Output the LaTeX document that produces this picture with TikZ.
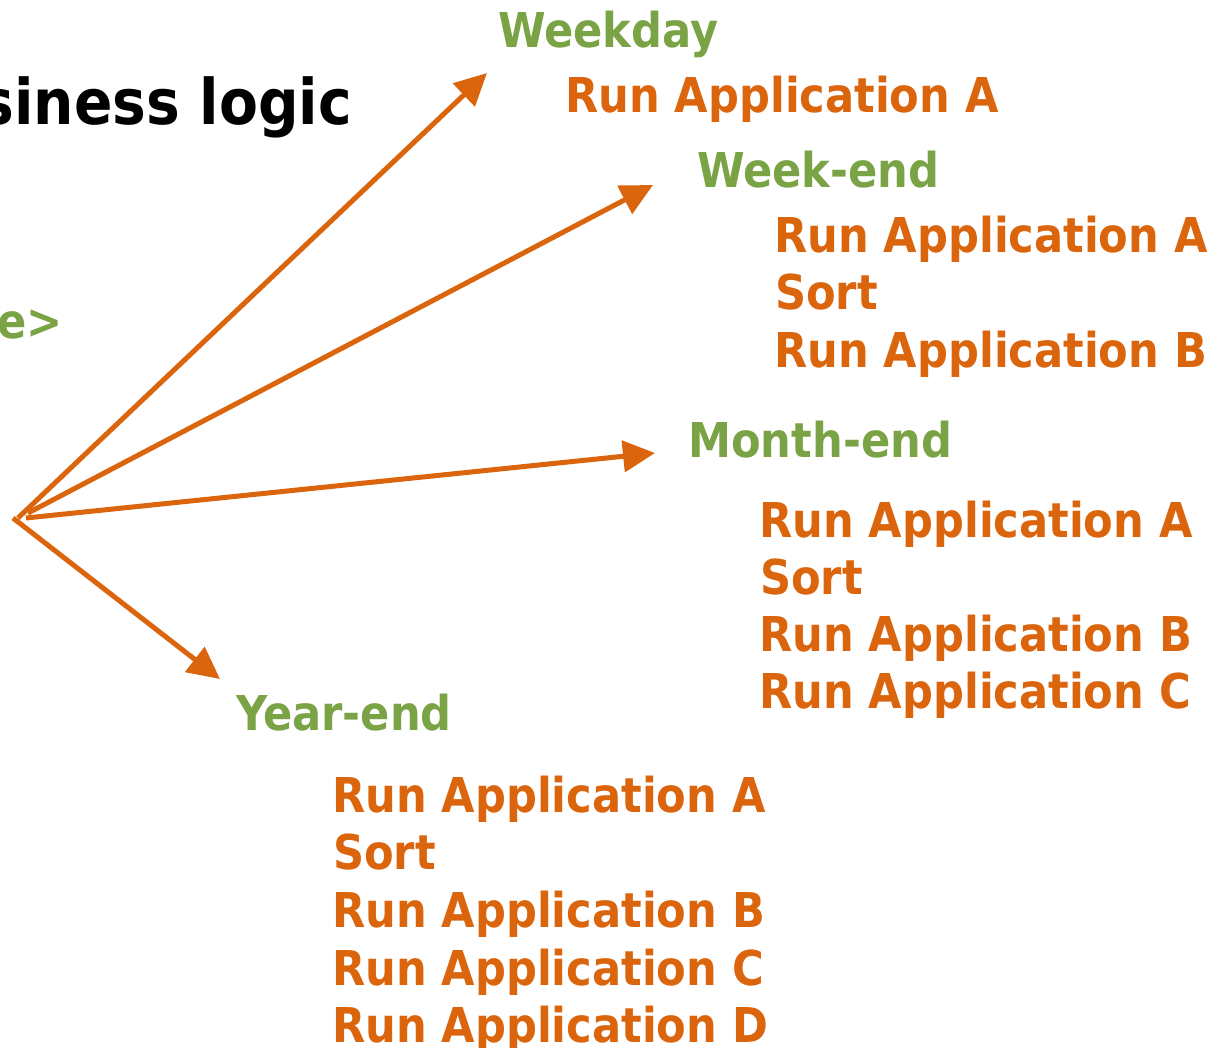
\documentclass[tikz,border=0pt]{standalone}
\usepackage{fontspec}
\setmainfont{DejaVu Sans Condensed}
\usepackage{xcolor}
\usetikzlibrary{arrows.meta}

\definecolor{runorange}{RGB}{219,101,13}
\definecolor{daygreen}{RGB}{122,163,70}

\tikzset{
    caselabel/.style={text=daygreen, anchor=base west, inner sep=0pt,
        font=\fontsize{48}{57.5}\selectfont\bfseries},
    runline/.style={text=runorange, anchor=base west, inner sep=0pt,
        font=\fontsize{48}{57.5}\selectfont\bfseries},
    casearrow/.style={draw=runorange, line width=5pt,
        -{Triangle[length=32pt,width=31pt]}}
}

\begin{document}
\begin{tikzpicture}[x=1pt,y=-1pt]
    % Page frame
    \useasboundingbox (0,0) rectangle (1212,1048);

    % Title and parameter, cut at the left edge
    \node[anchor=base east, inner sep=0pt, font=\fontsize{63}{70}\selectfont\bfseries] (title) at (352,125) {siness logic};
    \node[anchor=base east, inner sep=0pt, text=daygreen, font=\fontsize{48}{57.5}\selectfont\bfseries] (param) at (63,338) {e>};

    % Weekday
    \node[caselabel] (weekday) at (498,48) {Weekday};
    \node[runline] (wdA) at (565,113) {Run Application A};

    % Week-end
    \node[caselabel] (weekend) at (697,188) {Week-end};
    \node[runline] (weA) at (774,253) {Run Application A};
    \node[runline] (weS) at (775,310) {Sort};
    \node[runline] (weB) at (774,367) {Run Application B};

    % Month-end
    \node[caselabel] (monthend) at (688,457) {Month-end};
    \node[runline] (meA) at (759,537) {Run Application A};
    \node[runline] (meS) at (760,594) {Sort};
    \node[runline] (meB) at (759,651) {Run Application B};
    \node[runline] (meC) at (759,708) {Run Application C};

    % Year-end
    \node[caselabel] (yearend) at (236,730) {Year-end};
    \node[runline] (yeA) at (332,812) {Run Application A};
    \node[runline] (yeS) at (333,869) {Sort};
    \node[runline] (yeB) at (332,927) {Run Application B};
    \node[runline] (yeC) at (332,985) {Run Application C};
    \node[runline] (yeD) at (332,1042) {Run Application D};

    % Arrow ends
    \coordinate (fromWd) at (18,518);
    \coordinate (fromWe) at (28,513);
    \coordinate (fromMe) at (26,518);
    \coordinate (fromYe) at (13,518);
    \coordinate (toWd) at (487,73);
    \coordinate (toWe) at (653,185);
    \coordinate (toMe) at (655,453);
    \coordinate (toYe) at (220,679);

    % Draw the arrows
    \draw[casearrow] (fromWd) -- (toWd);
    \draw[casearrow] (fromWe) -- (toWe);
    \draw[casearrow] (fromMe) -- (toMe);
    \draw[casearrow] (fromYe) -- (toYe);

\end{tikzpicture}
\end{document}
